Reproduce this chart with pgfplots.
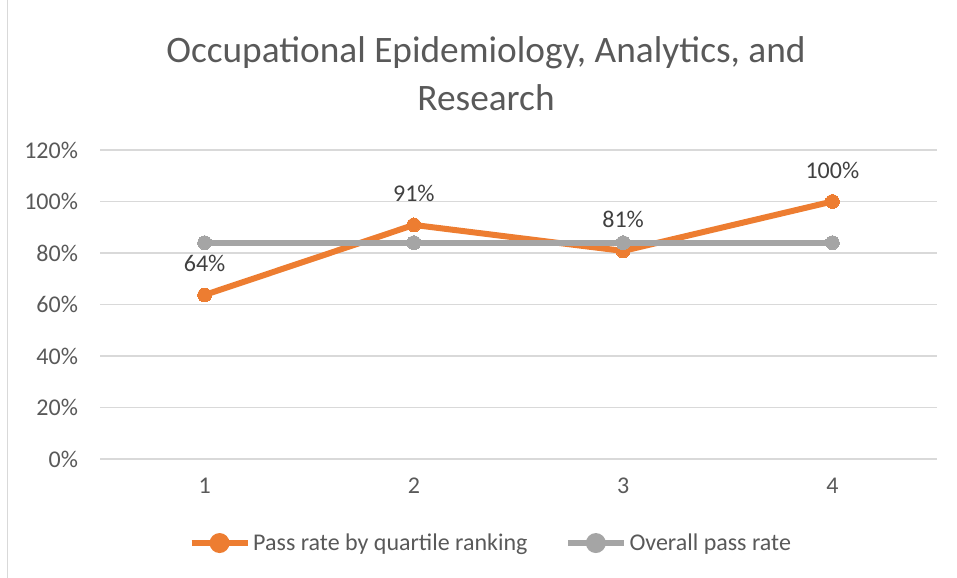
\documentclass[border=0pt]{standalone}
\usepackage{pgfplots}
\pgfplotsset{compat=1.18}
\usepackage{fontspec}
\setmainfont{Carlito}
\definecolor{orangeS}{HTML}{ED7D31}
\definecolor{grayS}{HTML}{A5A5A5}
\definecolor{gridC}{HTML}{D9D9D9}
\definecolor{txtC}{HTML}{595959}
\definecolor{lblC}{HTML}{404040}
\begin{document}
\begin{tikzpicture}[x=0.75pt,y=0.75pt]
\useasboundingbox (0,0) rectangle (957,578);
\draw[gridC, line width=1pt] (7.5,0) -- (7.5,578);
\node[txtC, font=\fontsize{28}{33}\selectfont] at (486,525) {Occupational Epidemiology, Analytics, and};
\node[txtC, font=\fontsize{28}{33}\selectfont] at (486,480) {Research};
\begin{axis}[
  at={(75pt,89.25pt)}, anchor=origin,
  scale only axis, width=627.75pt, height=231.75pt,
  xmin=0.5, xmax=4.5, ymin=0, ymax=120,
  xtick={1,2,3,4}, ytick={0,20,40,60,80,100,120},
  yticklabel={\pgfmathprintnumber{\tick}\%},
  /pgf/number format/assume math mode=true,
  axis line style={draw=none},
  major tick length=0pt,
  ymajorgrids, grid style={gridC, line width=1pt},
  tick label style={txtC, font=\fontsize{18}{21}\selectfont},
  yticklabel style={xshift=-13pt},
  xticklabel style={yshift=-11pt},
  clip=false,
  legend columns=2,
  legend style={at={(axis description cs:0.1055,-0.272)}, anchor=west, draw=none, fill=none,
    font=\fontsize{18}{21}\selectfont, text=txtC,
    /tikz/every even column/.append style={column sep=26pt},
    inner sep=0pt, row sep=0pt},
  legend cell align=left,
  legend image code/.code={%
    \draw[line width=4.5pt] (0pt,0pt) -- (42pt,0pt);
    \fill (21pt,0pt) circle (5.2pt);},
]
\addplot[orangeS, line width=4.5pt, mark=*, mark size=5.2pt,
  mark options={solid, fill=orangeS, draw=orangeS, line width=0pt},
  point meta=y,
  nodes near coords={\pgfmathprintnumber[fixed,precision=0]{\pgfplotspointmeta}\%},
  nodes near coords style={lblC, font=\fontsize{18}{21}\selectfont, anchor=south, yshift=14pt},
  /pgf/number format/assume math mode=true]
  coordinates {(1,63.7) (2,90.9) (3,80.8) (4,100)};
\addlegendentry{Pass rate by quartile ranking}
\addplot[grayS, line width=4.5pt, mark=*, mark size=5.2pt,
  mark options={solid, fill=grayS, draw=grayS, line width=0pt}]
  coordinates {(1,84) (2,84) (3,84) (4,84)};
\addlegendentry{Overall pass rate}
\end{axis}
\end{tikzpicture}
\end{document}
